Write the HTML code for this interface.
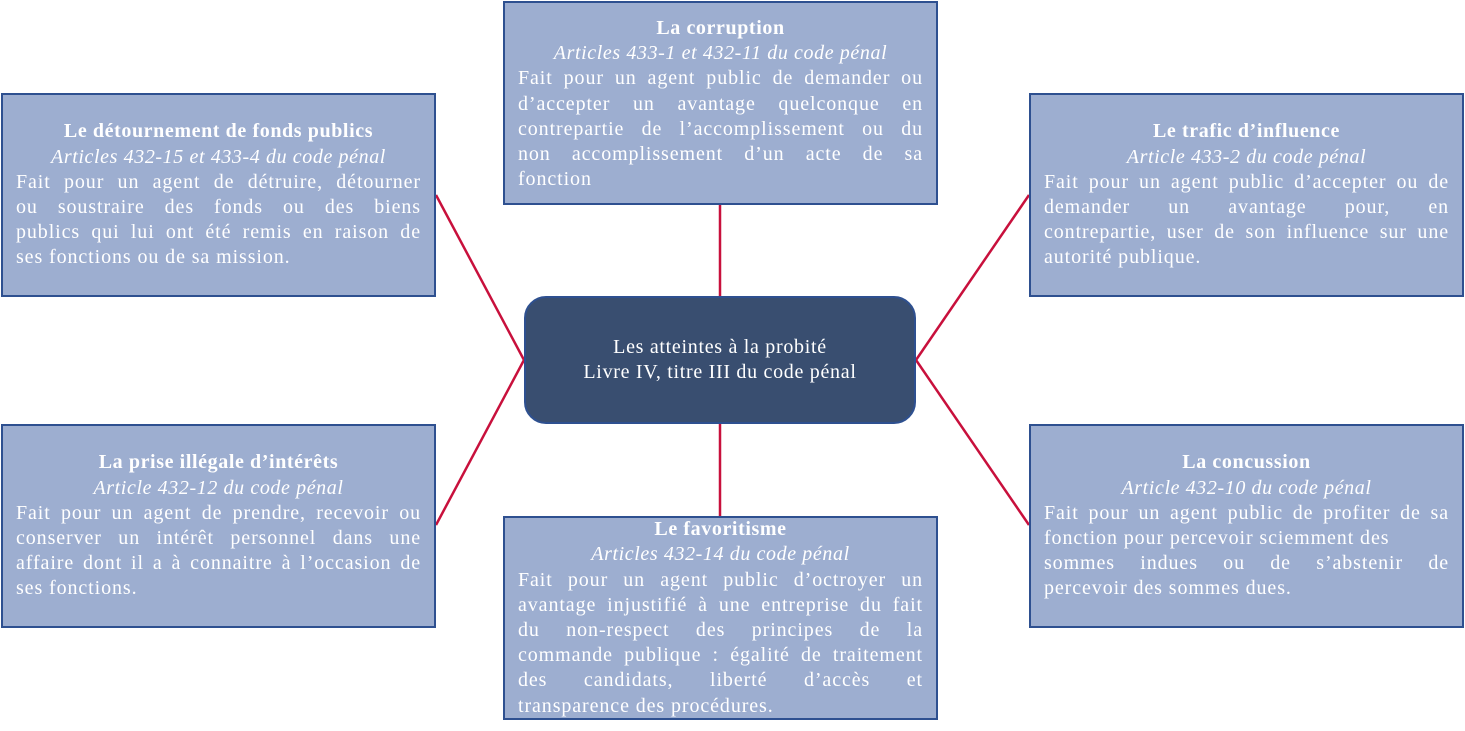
<!DOCTYPE html>
<html><head><meta charset="utf-8"><style>
body{margin:0;width:1465px;height:731px;background:#fff;position:relative;overflow:hidden;font-family:"Liberation Serif",serif;}
.b{position:absolute;box-sizing:border-box;width:435px;height:204px;background:#9daed0;border:2px solid #2e5090;color:#fff;font-size:20px;letter-spacing:0.9px;line-height:25.2px;padding:0 13px;display:flex;flex-direction:column;justify-content:center;white-space:nowrap;}
.b .t{text-align:center;font-weight:bold;letter-spacing:0.6px;}
.b .i{text-align:center;font-style:italic;letter-spacing:0.6px;}
.b .j{text-align:justify;text-align-last:justify;}
.b .l{text-align:left;}
.c{position:absolute;left:524px;top:296px;width:392px;height:128px;box-sizing:border-box;background:#394e70;border:2px solid #2e5090;border-radius:22px;color:#fff;font-size:20px;letter-spacing:0.7px;line-height:25px;display:flex;flex-direction:column;justify-content:center;text-align:center;}
svg{position:absolute;left:0;top:0}
</style></head><body>
<svg width="1465" height="731"><g stroke="#c8103c" stroke-width="2.5">
<line x1="720" y1="204" x2="720" y2="296"/>
<line x1="720" y1="424" x2="720" y2="516"/>
<line x1="436" y1="195" x2="524" y2="360"/>
<line x1="436" y1="525" x2="524" y2="360"/>
<line x1="1029" y1="195" x2="916" y2="360"/>
<line x1="1029" y1="525" x2="916" y2="360"/>
</g></svg>
<div class="b" style="left:503px;top:1px;justify-content:flex-start;padding-top:13px"><div class="t">La corruption</div><div class="i">Articles 433-1 et 432-11 du code pénal</div><div class="j">Fait pour un agent public de demander ou</div><div class="j">d’accepter un avantage quelconque en</div><div class="j">contrepartie de l’accomplissement ou du</div><div class="j">non accomplissement d’un acte de sa</div><div class="l">fonction</div></div>
<div class="b" style="left:1px;top:93px"><div class="t">Le détournement de fonds publics</div><div class="i">Articles 432-15 et 433-4 du code pénal</div><div class="j">Fait pour un agent de détruire, détourner</div><div class="j">ou soustraire des fonds ou des biens</div><div class="j">publics qui lui ont été remis en raison de</div><div class="l">ses fonctions ou de sa mission.</div></div>
<div class="b" style="left:1029px;top:93px"><div class="t">Le trafic d’influence</div><div class="i">Article 433-2 du code pénal</div><div class="j">Fait pour un agent public d’accepter ou de</div><div class="j">demander un avantage pour, en</div><div class="j">contrepartie, user de son influence sur une</div><div class="l">autorité publique.</div></div>
<div class="b" style="left:1px;top:424px"><div class="t">La prise illégale d’intérêts</div><div class="i">Article 432-12 du code pénal</div><div class="j">Fait pour un agent de prendre, recevoir ou</div><div class="j">conserver un intérêt personnel dans une</div><div class="j">affaire dont il a à connaitre à l’occasion de</div><div class="l">ses fonctions.</div></div>
<div class="b" style="left:1029px;top:424px"><div class="t">La concussion</div><div class="i">Article 432-10 du code pénal</div><div class="j">Fait pour un agent public de profiter de sa</div><div class="l">fonction pour percevoir sciemment des</div><div class="j">sommes indues ou de s’abstenir de</div><div class="l">percevoir des sommes dues.</div></div>
<div class="b" style="left:503px;top:516px"><div class="t">Le favoritisme</div><div class="i">Articles 432-14 du code pénal</div><div class="j">Fait pour un agent public d’octroyer un</div><div class="j">avantage injustifié à une entreprise du fait</div><div class="j">du non-respect des principes de la</div><div class="j">commande publique : égalité de traitement</div><div class="j">des candidats, liberté d’accès et</div><div class="l">transparence des procédures.</div></div>
<div class="c"><div>Les atteintes à la probité</div><div>Livre IV, titre III du code pénal</div></div>
</body></html>
